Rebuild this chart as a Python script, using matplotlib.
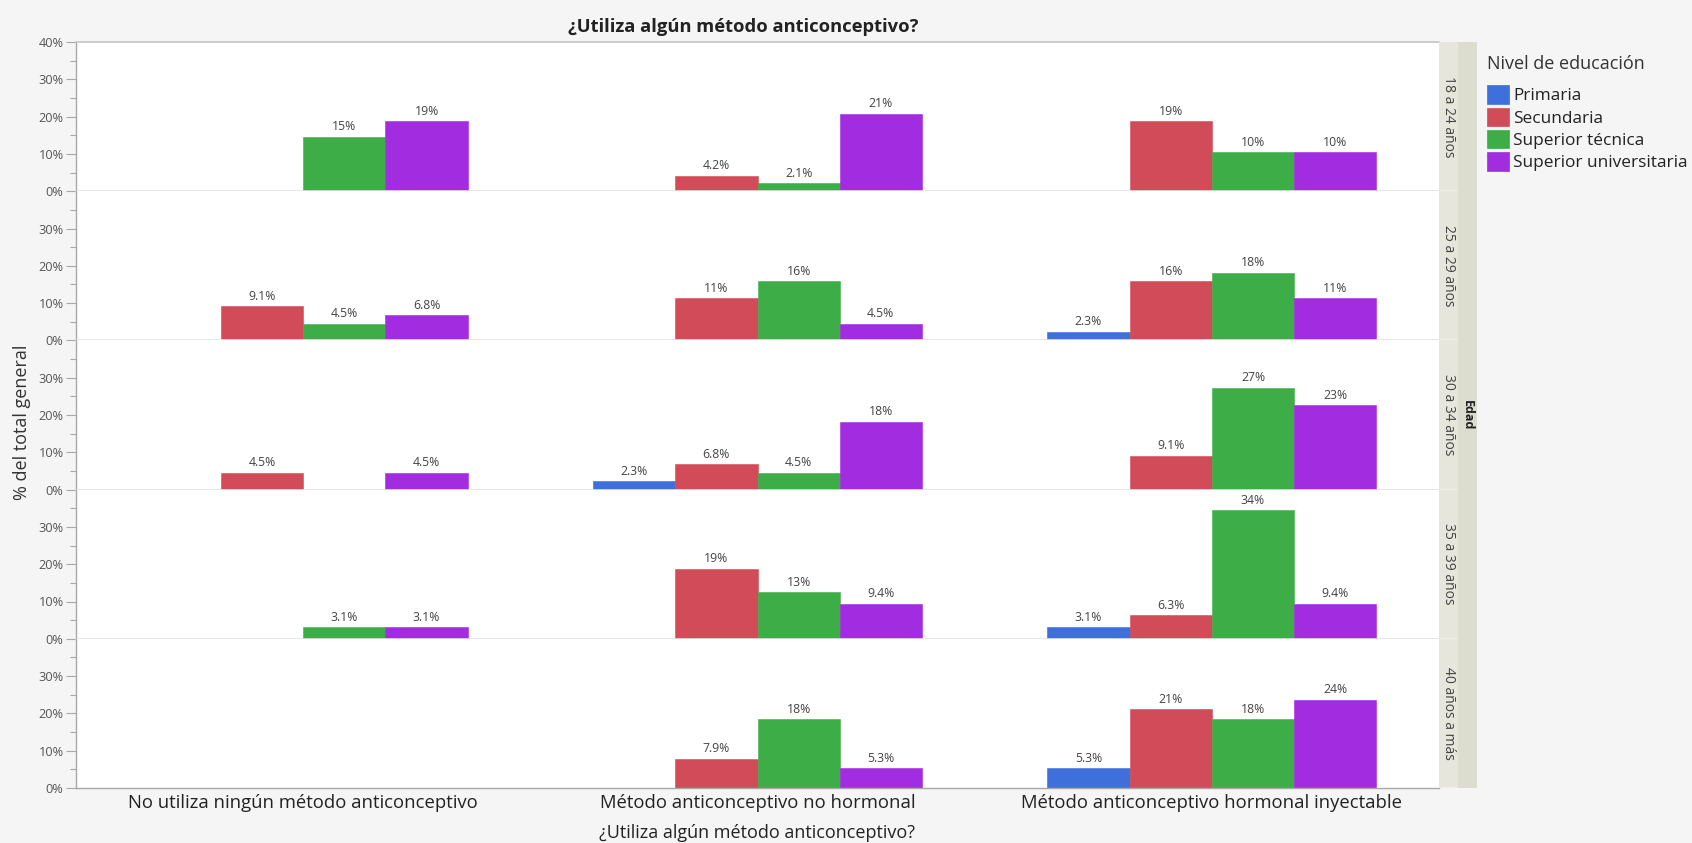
import numpy as np
import matplotlib
matplotlib.use("Agg")
import matplotlib.pyplot as plt
from matplotlib.ticker import FixedLocator
from matplotlib.patches import Patch

plt.rcParams['font.family'] = ['Open Sans', 'DejaVu Sans']

# ---------------- data ----------------
categories = ["No utiliza ningún método anticonceptivo",
              "Método anticonceptivo no hormonal",
              "Método anticonceptivo hormonal inyectable"]
age_groups = ["18 a 24 años", "25 a 29 años", "30 a 34 años", "35 a 39 años", "40 años a más"]
series_names = ["Primaria", "Secundaria", "Superior técnica", "Superior universitaria"]
series_colors = ["#3E6FDA", "#D24B58", "#3DAE47", "#A22CDF"]
nan = np.nan

# values (% del total general) per age group: rows = category, cols = series
v_18_24 = [[nan, nan, 14.6, 18.8],
           [nan, 4.2, 2.1, 20.8],
           [nan, 18.8, 10.4, 10.4]]
v_25_29 = [[nan, 9.1, 4.5, 6.8],
           [nan, 11.4, 15.9, 4.5],
           [2.3, 15.9, 18.2, 11.4]]
v_30_34 = [[nan, 4.5, nan, 4.5],
           [2.3, 6.8, 4.5, 18.2],
           [nan, 9.1, 27.3, 22.7]]
v_35_39 = [[nan, nan, 3.1, 3.1],
           [nan, 18.8, 12.5, 9.4],
           [3.1, 6.3, 34.4, 9.4]]
v_40_mas = [[nan, nan, nan, nan],
            [nan, 7.9, 18.4, 5.3],
            [5.3, 21.1, 18.4, 23.7]]
panel_values = [v_18_24, v_25_29, v_30_34, v_35_39, v_40_mas]

title = "¿Utiliza algún método anticonceptivo?"
xlabel = "¿Utiliza algún método anticonceptivo?"
ylabel = "% del total general"
legend_title = "Nivel de educación"
strip_title = "Edad"


def fmt(v):
    if v >= 9.95:
        return f"{int(v + 0.5)}%"
    return f"{np.floor(v * 10 + 0.5) / 10:.1f}%"


# ---------------- layout ----------------
W, H = 1692, 843
fig = plt.figure(figsize=(W / 100, H / 100), dpi=100, facecolor="#F5F5F5")

left_px, right_px = 76, 1439
top_px, bottom_px = 42, 788
n = len(age_groups)
ph = (bottom_px - top_px) / n

def fx(px):
    return px / W

def fy(py):
    return 1 - py / H

bar_w = 0.181
tick_col = "#555555"
axes = []
for r in range(n):
    y0 = top_px + r * ph
    ax = fig.add_axes([fx(left_px), fy(y0 + ph), fx(right_px - left_px), ph / H])
    ax.set_facecolor("white")
    ax.set_xlim(-0.5, 2.5)
    ax.set_ylim(0, 40)
    vals = np.array(panel_values[r], dtype=float)
    x = np.arange(len(categories))
    for j, name in enumerate(series_names):
        xs = x + (j - 1.5) * bar_w
        hs = vals[:, j]
        mask = ~np.isnan(hs)
        if mask.any():
            ax.bar(xs[mask], hs[mask], width=bar_w, color=series_colors[j],
                   edgecolor=series_colors[j], linewidth=0.4, zorder=2)
        for xx, hh in zip(xs[mask], hs[mask]):
            ax.text(xx, hh + 0.9, fmt(hh), ha="center", va="bottom",
                    fontsize=8.8, color="#444444", zorder=3)
    # spines
    for s in ["top", "right"]:
        ax.spines[s].set_visible(False)
    ax.spines["left"].set_color("#A8A8A8")
    ax.spines["left"].set_linewidth(1.0)
    if r == n - 1:
        ax.spines["bottom"].set_color("#A8A8A8")
        ax.spines["bottom"].set_linewidth(1.0)
    else:
        ax.spines["bottom"].set_color("#E2E2E2")
        ax.spines["bottom"].set_linewidth(1.2)
    if r == 0:
        ax.spines["top"].set_visible(True)
        ax.spines["top"].set_color("#C4C4C4")
        ax.spines["top"].set_linewidth(1.2)
        ax.yaxis.set_major_locator(FixedLocator([0, 10, 20, 30, 40]))
    else:
        ax.yaxis.set_major_locator(FixedLocator([0, 10, 20, 30]))
    ax.yaxis.set_minor_locator(FixedLocator([5, 15, 25, 35]))
    ax.set_yticklabels([f"{int(t)}%" for t in ax.get_yticks()])
    ax.tick_params(axis="y", which="major", length=7, width=0.8, color="#A8A8A8",
                   labelsize=9.2, labelcolor=tick_col, pad=2)
    ax.tick_params(axis="y", which="minor", length=4, width=0.8, color="#A8A8A8")
    if r == n - 1:
        ax.set_xticks(x)
        ax.set_xticklabels(categories, fontsize=13.3, color="#222222")
        ax.tick_params(axis="x", length=0, pad=4)
    else:
        ax.set_xticks([])
    axes.append(ax)

    # age strip
    sax = fig.add_axes([fx(right_px), fy(y0 + ph), fx(1458 - right_px), ph / H])
    sax.set_facecolor("#E6E6DD")
    sax.set_xticks([]); sax.set_yticks([])
    for s in sax.spines.values():
        s.set_visible(False)
    sax.axhline(0, color="#F0F0EA", lw=1.2)
    sax.text(0.5, 0.5, age_groups[r], rotation=-90, ha="center", va="center",
             fontsize=10, color="#444444", transform=sax.transAxes)

# Edad strip
eax = fig.add_axes([fx(1458), fy(bottom_px), fx(1477 - 1458), (bottom_px - top_px) / H])
eax.set_facecolor("#DCDCCF")
eax.set_xticks([]); eax.set_yticks([])
for s in eax.spines.values():
    s.set_visible(False)
eax.text(0.5, 0.5, strip_title, rotation=-90, ha="center", va="center",
         fontsize=9, fontweight="bold", color="#222222", transform=eax.transAxes)

# titles
fig.text(fx(743), fy(27), title, ha="center", va="center", fontsize=13.2,
         fontweight="bold", color="#222222")
fig.text(fx(757), fy(833), xlabel, ha="center", va="center", fontsize=13, color="#222222")
fig.text(fx(22), fy(422), ylabel, ha="center", va="center", rotation=90,
         fontsize=13, color="#333333")

# legend
handles = [Patch(facecolor=c, edgecolor=c, linewidth=0.5) for c in series_colors]
leg = fig.legend(handles, series_names, title=legend_title, loc="upper left",
                 bbox_to_anchor=(fx(1480), fy(48)), frameon=False,
                 fontsize=12.4, title_fontsize=13, handlelength=1.3,
                 handleheight=1.25, handletextpad=0.22, labelspacing=0.2,
                 borderaxespad=0, alignment="left")
leg._legend_box.sep = 9
for t in leg.get_texts():
    t.set_color("#222222")
leg.get_title().set_color("#333333")

fig.savefig("out.png", dpi=100, facecolor=fig.get_facecolor())
